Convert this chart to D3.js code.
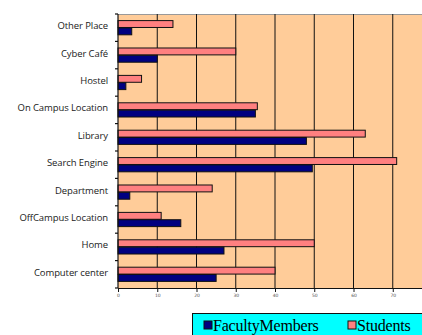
<!DOCTYPE html>
<html>
<head>
<meta charset="utf-8">
<script src="https://cdn.jsdelivr.net/npm/d3@7"></script>
<style>
  html, body { margin: 0; padding: 0; background: #fff; overflow: hidden; }
  svg { display: block; }
</style>
</head>
<body>
<div id="chart"></div>
<script>
// ── Data ──────────────────────────────────────────────────────────────────────
const categories = ['Other Place', 'Cyber Café', 'Hostel', 'On Campus Location', 'Library',
  'Search Engine', 'Department', 'OffCampus Location', 'Home', 'Computer center'];
const facultyMembers = [3.5, 10, 2, 35, 48, 49.5, 3, 16, 27, 25];
const students = [14, 30, 6, 35.5, 63, 71, 24, 11, 50, 40];
const xTicks = [0, 10, 20, 30, 40, 50, 60, 70];
const seriesNames = ['FacultyMembers', 'Students'];
const seriesColors = ['#000080', '#ff8080'];

// ── SVG setup ─────────────────────────────────────────────────────────────────
const W = 422, H = 335;
const svg = d3.select('#chart').append('svg')
  .attr('width', W).attr('height', H);

const plot = { left: 118, top: 14, right: 432, bottom: 288 };

const x = d3.scaleLinear().domain([0, 80]).range([plot.left, plot.right]);
const y = d3.scaleBand().domain(categories).range([plot.top, plot.bottom]);
const inner = d3.scaleBand().domain(['s', 'f']).range([0, y.bandwidth()])
  .paddingInner(0.06).paddingOuter(0.9);

// plot background
svg.append('rect')
  .attr('x', plot.left).attr('y', plot.top)
  .attr('width', plot.right - plot.left).attr('height', plot.bottom - plot.top)
  .attr('fill', '#ffcc99');

svg.append('line')
  .attr('x1', plot.left).attr('x2', W)
  .attr('y1', plot.top + 0.5).attr('y2', plot.top + 0.5)
  .attr('stroke', '#999').attr('stroke-width', 1);

// gridlines
svg.append('g').selectAll('line')
  .data(xTicks.filter(d => d > 0))
  .join('line')
  .attr('x1', d => x(d)).attr('x2', d => x(d))
  .attr('y1', plot.top).attr('y2', plot.bottom)
  .attr('stroke', '#111').attr('stroke-width', 1);

// ── Bars ──────────────────────────────────────────────────────────────────────
const barG = svg.append('g');
categories.forEach((c, i) => {
  barG.append('rect')
    .attr('x', x(0)).attr('y', y(c) + inner('s'))
    .attr('width', x(students[i]) - x(0)).attr('height', inner.bandwidth())
    .attr('fill', seriesColors[1]).attr('stroke', '#111').attr('stroke-width', 1);
  barG.append('rect')
    .attr('x', x(0)).attr('y', y(c) + inner('f'))
    .attr('width', x(facultyMembers[i]) - x(0)).attr('height', inner.bandwidth())
    .attr('fill', seriesColors[0]).attr('stroke', '#111').attr('stroke-width', 1);
});

// ── Axes ──────────────────────────────────────────────────────────────────────
const xAxis = svg.append('g')
  .attr('transform', `translate(0,${plot.bottom})`)
  .call(d3.axisBottom(x).tickValues(xTicks).tickSize(4).tickPadding(2).tickSizeOuter(0));
xAxis.select('.domain').attr('stroke', '#111').attr('stroke-width', 1.2);
xAxis.selectAll('.tick line').attr('stroke', '#111');
xAxis.selectAll('text')
  .attr('font-family', 'DejaVu Sans').attr('font-size', 4.5).attr('fill', '#555');

const yTickVals = d3.range(categories.length + 1).map(i => plot.top + i * y.step());
const yAxisG = svg.append('g');
yAxisG.append('line')
  .attr('x1', plot.left).attr('x2', plot.left)
  .attr('y1', plot.top).attr('y2', plot.bottom)
  .attr('stroke', '#111').attr('stroke-width', 1.2);
yAxisG.selectAll('line.tk')
  .data(yTickVals)
  .join('line').attr('class', 'tk')
  .attr('x1', plot.left - 3).attr('x2', plot.left)
  .attr('y1', d => d).attr('y2', d => d)
  .attr('stroke', '#111').attr('stroke-width', 1.2);

yAxisG.selectAll('text.cat')
  .data(categories)
  .join('text').attr('class', 'cat')
  .attr('x', plot.left - 10)
  .attr('y', d => y(d) + y.bandwidth() / 2 - 1)
  .attr('dominant-baseline', 'middle')
  .attr('text-anchor', 'end')
  .attr('font-family', 'Open Sans, sans-serif')
  .attr('font-size', 9.5)
  .attr('letter-spacing', -0.1)
  .attr('fill', '#1a1a1a')
  .text(d => d);

// ── Legend ────────────────────────────────────────────────────────────────────
const lg = svg.append('g');
lg.append('rect')
  .attr('x', 192.5).attr('y', 313.5).attr('width', 240).attr('height', 30)
  .attr('fill', '#00ffff').attr('stroke', '#111').attr('stroke-width', 1);
const legendX = [204, 348];
seriesNames.forEach((name, i) => {
  lg.append('rect')
    .attr('x', legendX[i]).attr('y', 321).attr('width', 8).attr('height', 8)
    .attr('fill', seriesColors[i]).attr('stroke', '#111').attr('stroke-width', 1);
  lg.append('text')
    .attr('x', legendX[i] + 9).attr('y', 330.5)
    .attr('font-family', 'Liberation Serif, serif')
    .attr('font-size', 16)
    .attr('letter-spacing', -0.2)
    .attr('fill', '#000')
    .text(name);
});
</script>
</body>
</html>
